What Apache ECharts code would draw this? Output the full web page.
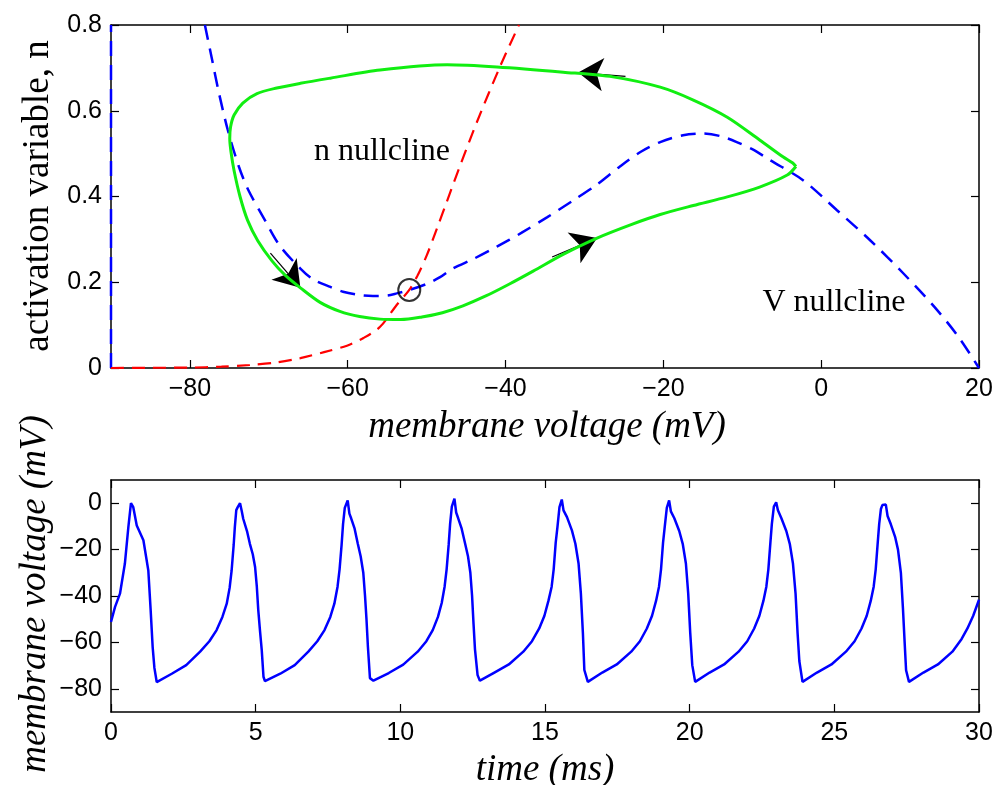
<!DOCTYPE html>
<html>
<head>
<meta charset="utf-8">
<script src="https://cdn.jsdelivr.net/npm/echarts@6/dist/echarts.min.js"></script>
<style>
  html, body { margin: 0; padding: 0; background: #ffffff; }
  #chart { width: 996px; height: 785px; }
</style>
</head>
<body>
<div id="chart"></div>
<script>
// ---- Phase plane (membrane voltage V in mV, activation n) ----
const vNullcline = [
  [-78.1, 0.800], [-77.2, 0.720], [-76.4, 0.648], [-75.2, 0.555], [-73.8, 0.470],
  [-72.6, 0.415], [-70.5, 0.345], [-68.6, 0.285], [-66.0, 0.232], [-64.4, 0.207],
  [-62.2, 0.189], [-60.6, 0.178], [-58.4, 0.170], [-56.8, 0.168], [-55.0, 0.169],
  [-53.8, 0.174], [-52.2, 0.182], [-50.0, 0.196], [-48.3, 0.212], [-46.7, 0.232],
  [-44.0, 0.255], [-41.1, 0.283], [-38.0, 0.315], [-34.7, 0.352], [-31.5, 0.390],
  [-28.4, 0.428], [-25.5, 0.470], [-22.8, 0.505], [-20.4, 0.527], [-17.5, 0.543],
  [-15.0, 0.547], [-12.8, 0.541], [-10.7, 0.527], [-8.5, 0.508], [-6.5, 0.485],
  [-2.3, 0.438], [2.0, 0.368], [6.2, 0.298], [10.4, 0.221], [14.7, 0.135],
  [17.5, 0.070], [20.0, 0.000]
];
const vNullclineEdge = [[-90, 0], [-90, 0.8]];
const nNullcline = [
  [-90.0, 0.000], [-85.0, 0.0005], [-80.0, 0.001], [-76.0, 0.003], [-72.4, 0.007],
  [-69.0, 0.013], [-66.0, 0.023], [-63.0, 0.037], [-60.1, 0.052], [-58.0, 0.070],
  [-55.9, 0.096], [-53.8, 0.147], [-52.2, 0.182], [-51.2, 0.214], [-50.0, 0.262],
  [-48.7, 0.325], [-47.4, 0.390], [-45.8, 0.470], [-43.6, 0.575], [-40.7, 0.703],
  [-38.3, 0.800]
];
const limitCycle = [
  [-3.2, 0.470], [-3.6, 0.478], [-4.8, 0.492], [-7.8, 0.532], [-11.9, 0.585],
  [-16.2, 0.625], [-20.4, 0.655], [-26.4, 0.679], [-32.7, 0.690], [-41.1, 0.702],
  [-47.4, 0.707], [-55.9, 0.695], [-62.2, 0.676], [-66.0, 0.664], [-69.0, 0.653],
  [-71.5, 0.640], [-73.3, 0.618], [-74.4, 0.590], [-74.85, 0.562], [-74.95, 0.535],
  [-74.8, 0.505], [-74.4, 0.460], [-73.65, 0.400], [-72.7, 0.345], [-71.4, 0.297],
  [-69.6, 0.250], [-67.9, 0.216], [-66.0, 0.187], [-63.5, 0.153], [-61.0, 0.132],
  [-58.5, 0.120], [-55.9, 0.114], [-53.3, 0.113], [-50.6, 0.119], [-48.0, 0.129],
  [-45.4, 0.145], [-42.5, 0.168], [-39.5, 0.196], [-36.5, 0.226], [-32.7, 0.265],
  [-28.4, 0.303], [-24.0, 0.335], [-20.4, 0.358], [-16.2, 0.379], [-11.9, 0.399],
  [-7.8, 0.422], [-4.3, 0.450], [-3.2, 0.470]
];
// direction arrows along the cycle: [tail, tip]
const cycleArrows = [
  [[-24.8, 0.680], [-30.8, 0.689]],
  [[-69.8, 0.268], [-66.0, 0.187]],
  [[-34.1, 0.259], [-28.4, 0.303]]
];
const fixedPoint = [[-52.2, 0.182]];
const phaseXTicks = [-80, -60, -40, -20, 0, 20];
const phaseYTicks = [0, 0.2, 0.4, 0.6, 0.8];

// ---- Voltage trace (time in ms, V in mV) ----
const traceTime = [
  0.00, 0.14, 0.31, 0.48, 0.60, 0.69, 0.77, 0.89, 1.12, 1.29, 1.37, 1.44, 1.50, 1.58,
  2.10, 2.60, 3.08, 3.40, 3.65, 3.85, 4.00, 4.10, 4.17, 4.24, 4.28, 4.33, 4.38, 4.46,
  4.52, 4.57, 4.70, 4.80, 4.90, 4.98, 5.04, 5.09, 5.15, 5.21, 5.27, 5.32,
  5.85, 6.35, 6.82, 7.13, 7.38, 7.58, 7.72, 7.83, 7.90, 7.97, 8.02, 8.08, 8.18,
  8.24, 8.30, 8.42, 8.53, 8.63, 8.72, 8.78, 8.83, 8.88, 8.95, 9.07,
  9.60, 10.10, 10.60, 10.90, 11.12, 11.30, 11.43, 11.53, 11.60, 11.67, 11.72, 11.78, 11.87,
  11.93, 12.00, 12.12, 12.24, 12.34, 12.42, 12.48, 12.53, 12.58, 12.67, 12.75,
  13.25, 13.75, 14.25, 14.55, 14.80, 14.98, 15.12, 15.23, 15.30, 15.37, 15.43, 15.50, 15.58,
  15.64, 15.76, 15.93, 16.05, 16.16, 16.24, 16.31, 16.36, 16.48,
  16.98, 17.48, 17.98, 18.28, 18.52, 18.70, 18.84, 18.94, 19.01, 19.08, 19.14, 19.21, 19.29,
  19.35, 19.47, 19.64, 19.76, 19.87, 19.95, 20.02, 20.09, 20.19,
  20.69, 21.19, 21.69, 21.99, 22.23, 22.41, 22.55, 22.65, 22.72, 22.79, 22.84, 22.91, 22.99,
  23.05, 23.17, 23.34, 23.46, 23.57, 23.66, 23.73, 23.79, 23.90,
  24.40, 24.90, 25.40, 25.70, 25.94, 26.12, 26.26, 26.36, 26.43, 26.50, 26.55, 26.61, 26.66,
  26.78, 26.84, 26.95, 27.10, 27.20, 27.30, 27.37, 27.43, 27.48, 27.58,
  28.08, 28.58, 29.08, 29.40, 29.60, 29.80, 30.00
];
const traceVoltage = [
  -51.2, -44.7, -39.0, -26.0, -10.3, 0.0, -1.7, -9.6, -16.0, -29.0, -46.0, -62.0, -71.0, -77.1,
  -73.5, -69.8, -64.0, -59.5, -54.7, -49.0, -43.3, -36.5, -28.9, -18.0, -10.3, -3.0, -1.7, 0.0,
  -3.5, -6.7, -12.0, -17.5, -22.0, -27.5, -36.0, -46.1, -55.0, -63.3, -74.8, -76.7,
  -73.5, -69.8, -64.0, -59.5, -54.7, -49.0, -43.3, -36.0, -28.5, -18.0, -9.0, -2.0, 1.2,
  -4.5, -6.5, -11.0, -17.5, -23.0, -30.0, -40.0, -50.0, -62.0, -75.4, -76.5,
  -73.2, -69.6, -64.0, -59.5, -54.7, -49.0, -43.0, -36.0, -28.5, -18.0, -9.0, -1.5, 2.0,
  -4.0, -6.5, -11.0, -17.5, -23.0, -30.0, -40.0, -52.0, -63.0, -74.1, -76.5,
  -73.0, -69.5, -64.0, -59.5, -54.0, -48.5, -42.0, -36.0, -28.5, -17.0, -10.3, -1.7, 1.6,
  -3.1, -6.0, -11.7, -17.5, -26.0, -39.0, -56.0, -71.9, -77.0,
  -73.0, -69.5, -64.0, -59.5, -54.0, -48.5, -42.0, -36.0, -28.5, -17.0, -10.0, -2.0, 1.2,
  -3.5, -6.5, -12.0, -17.5, -26.0, -39.0, -56.0, -69.8, -77.0,
  -73.0, -69.5, -64.0, -59.5, -54.0, -48.5, -42.0, -36.0, -28.5, -17.0, -9.0, -1.5, 0.4,
  -3.0, -6.5, -12.0, -17.5, -26.0, -39.0, -56.0, -68.0, -77.0,
  -73.0, -69.5, -64.0, -59.5, -54.0, -48.5, -42.0, -36.0, -28.5, -17.0, -9.0, -2.5, -0.8,
  -0.6, -5.5, -9.0, -14.5, -20.0, -30.0, -45.0, -60.0, -72.0, -77.0,
  -73.0, -69.5, -64.0, -58.5, -54.0, -48.5, -41.6
];
const traceXTicks = [0, 5, 10, 15, 20, 25, 30];
const traceYTicks = [-80, -60, -40, -20, 0];

const tickFont = 'Liberation Sans';
const serifFont = 'Liberation Serif';
const fmt = v => (v < 0 ? '\u2212' + Math.abs(v) : String(v));

// one side of a boxed axes frame; ticks point inward on every side
function boxAxis(pos, gridIndex, min, max, ticks, showLabels) {
  return {
    type: 'value',
    gridIndex: gridIndex,
    position: pos,
    min: min,
    max: max,
    axisLine: { show: true, onZero: false, lineStyle: { color: '#000', width: 1.5 } },
    axisTick: { show: true, inside: true, length: 8, customValues: ticks,
                lineStyle: { color: '#000', width: 1.2 } },
    axisLabel: { show: showLabels, customValues: ticks, formatter: fmt,
                 margin: 9, color: '#000', fontFamily: tickFont, fontSize: 25 },
    splitLine: { show: false },
    minorTick: { show: false }
  };
}

const traceData = traceTime.map((t, i) => [t, traceVoltage[i]]);

const chart = echarts.init(document.getElementById('chart'), null, { renderer: 'canvas' });
chart.setOption({
  animation: false,
  backgroundColor: '#ffffff',
  grid: [
    { left: 111, top: 25, width: 868, height: 343, containLabel: false },
    { left: 111, top: 480, width: 868, height: 232, containLabel: false }
  ],
  xAxis: [
    boxAxis('bottom', 0, -90, 20, phaseXTicks, true),
    boxAxis('top', 0, -90, 20, phaseXTicks, false),
    boxAxis('bottom', 1, 0, 30, traceXTicks, true),
    boxAxis('top', 1, 0, 30, traceXTicks, false)
  ],
  yAxis: [
    boxAxis('left', 0, 0, 0.8, phaseYTicks, true),
    boxAxis('right', 0, 0, 0.8, phaseYTicks, false),
    boxAxis('left', 1, -90, 10, traceYTicks, true),
    boxAxis('right', 1, -90, 10, traceYTicks, false)
  ],
  series: [
    {
      name: 'V nullcline', type: 'line', xAxisIndex: 0, yAxisIndex: 0,
      data: vNullcline, smooth: 0.3, showSymbol: false, clip: false,
      lineStyle: { color: '#0000ff', width: 2.5, type: [15, 9] }
    },
    {
      name: 'V nullcline edge', type: 'line', xAxisIndex: 0, yAxisIndex: 0,
      data: vNullclineEdge, showSymbol: false, clip: false,
      lineStyle: { color: '#0000ff', width: 2.5, type: [15, 9] }
    },
    {
      name: 'n nullcline', type: 'line', xAxisIndex: 0, yAxisIndex: 0,
      data: nNullcline, smooth: 0.3, showSymbol: false, clip: false,
      lineStyle: { color: '#ff0000', width: 2.2, type: [13, 8] }
    },
    {
      name: 'limit cycle', type: 'line', xAxisIndex: 0, yAxisIndex: 0,
      data: limitCycle, smooth: 0.3, showSymbol: false, clip: false,
      lineStyle: { color: '#11ee11', width: 3 }
    },
    {
      name: 'direction', type: 'lines', coordinateSystem: 'cartesian2d',
      xAxisIndex: 0, yAxisIndex: 0,
      data: cycleArrows.map(c => ({ coords: c })),
      symbol: ['none', 'arrow'], symbolSize: 25,
      lineStyle: { color: '#000', width: 1.2, opacity: 1 },
      itemStyle: { color: '#000' }
    },
    {
      name: 'fixed point', type: 'scatter', xAxisIndex: 0, yAxisIndex: 0,
      data: fixedPoint, symbol: 'circle', symbolSize: 22, z: 5,
      itemStyle: { color: 'rgba(0,0,0,0)', borderColor: '#000', borderWidth: 2 }
    },
    {
      name: 'membrane voltage', type: 'line', xAxisIndex: 2, yAxisIndex: 2,
      data: traceData, showSymbol: false,
      lineStyle: { color: '#0000ff', width: 2.5 }
    }
  ],
  graphic: [
    { type: 'text', x: 38, y: 196, rotation: Math.PI / 2,
      style: { text: 'activation variable, n', fontFamily: serifFont, fontSize: 37,
               align: 'center', verticalAlign: 'middle', fill: '#000' } },
    { type: 'text', x: 547, y: 427,
      style: { text: 'membrane voltage (mV)', fontFamily: serifFont, fontStyle: 'italic', fontSize: 37,
               align: 'center', verticalAlign: 'middle', fill: '#000' } },
    { type: 'text', x: 35, y: 594, rotation: Math.PI / 2,
      style: { text: 'membrane voltage (mV)', fontFamily: serifFont, fontStyle: 'italic', fontSize: 37,
               align: 'center', verticalAlign: 'middle', fill: '#000' } },
    { type: 'text', x: 545, y: 770,
      style: { text: 'time (ms)', fontFamily: serifFont, fontStyle: 'italic', fontSize: 37,
               align: 'center', verticalAlign: 'middle', fill: '#000' } },
    { type: 'text', x: 382, y: 152,
      style: { text: 'n nullcline', fontFamily: serifFont, fontSize: 32,
               align: 'center', verticalAlign: 'middle', fill: '#000' } },
    { type: 'text', x: 834, y: 303,
      style: { text: 'V nullcline', fontFamily: serifFont, fontSize: 32,
               align: 'center', verticalAlign: 'middle', fill: '#000' } }
  ]
});
</script>
</body>
</html>
